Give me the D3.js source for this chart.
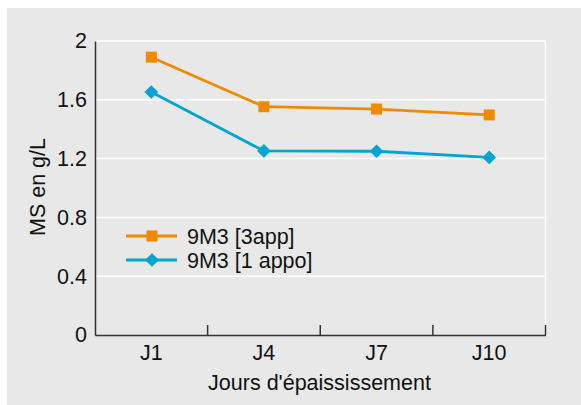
<!DOCTYPE html>
<html><head><meta charset="utf-8">
<script src="https://cdn.jsdelivr.net/npm/d3@7"></script>
<style>body{margin:0;background:#fff;}svg{display:block;font-family:"Liberation Sans",Arial,sans-serif;}</style>
</head><body>
<svg id="c" width="581" height="405"></svg>
<script>
const categories = ["J1","J4","J7","J10"];
const series3app = [1.89, 1.553, 1.537, 1.497];
const series1appo = [1.653, 1.252, 1.25, 1.208];
const seriesNames = ["9M3 [3app]","9M3 [1 appo]"];
const yTicks = [0,0.4,0.8,1.2,1.6,2];

const FS = 21.5;
const svg = d3.select("#c");
svg.append("rect").attr("x",7).attr("y",8).attr("width",574).attr("height",397).attr("fill","#e8e8e8");

const m = {l:95, r:545.5, t:41, b:335};
const x = d3.scaleBand().domain(categories).range([m.l,m.r]).padding(0);
const y = d3.scaleLinear().domain([0,2]).range([m.b,m.t]);

// grid
svg.append("g").selectAll("line").data(yTicks.filter(d=>d>0)).join("line")
  .attr("x1",m.l).attr("x2",m.r).attr("y1",d=>y(d)).attr("y2",d=>y(d))
  .attr("stroke","#fff").attr("stroke-width",1.5);
svg.append("line").attr("x1",m.r).attr("x2",m.r).attr("y1",m.t).attr("y2",m.b)
  .attr("stroke","#fff").attr("stroke-width",1.5);

// y axis
const ya = svg.append("g").attr("transform",`translate(${m.l},0)`)
  .call(d3.axisLeft(y).tickValues(yTicks).tickSize(0).tickPadding(8).tickFormat(d=>d3.format("")(d)));
ya.select(".domain").attr("stroke","#333").attr("stroke-width",1.5);
ya.selectAll("text").attr("font-size",FS).attr("fill","#111").attr("font-family","Liberation Sans, Arial, sans-serif");

// x axis
const xa = svg.append("g").attr("transform",`translate(0,${m.b})`)
  .call(d3.axisBottom(x).tickSize(0).tickPadding(10));
xa.select(".domain").attr("stroke","#333").attr("stroke-width",1.5);
xa.selectAll("text").attr("font-size",FS).attr("fill","#111").attr("font-family","Liberation Sans, Arial, sans-serif");
const bounds = categories.map(c=>x(c)).concat([x(categories[categories.length-1])+x.bandwidth()]).slice(1);
svg.append("g").selectAll("line").data(bounds).join("line")
  .attr("x1",d=>d).attr("x2",d=>d).attr("y1",m.b).attr("y2",m.b-10)
  .attr("stroke","#333").attr("stroke-width",1.5);

const cx = c => x(c)+x.bandwidth()/2;
const line = d3.line().x((d,i)=>cx(categories[i])).y(d=>y(d));
const col1 = "#f08a00", col2 = "#00a5d4";

svg.append("path").datum(series3app).attr("d",line).attr("fill","none").attr("stroke",col1).attr("stroke-width",2.8);
svg.append("path").datum(series1appo).attr("d",line).attr("fill","none").attr("stroke",col2).attr("stroke-width",2.8);

svg.append("g").selectAll("rect").data(series3app).join("rect")
  .attr("x",(d,i)=>cx(categories[i])-5.5).attr("y",d=>y(d)-5.5).attr("width",11).attr("height",11).attr("fill",col1);
const dia = d3.symbol().type(d3.symbolDiamond2).size(120);
svg.append("g").selectAll("path").data(series1appo).join("path")
  .attr("transform",(d,i)=>`translate(${cx(categories[i])},${y(d)})`).attr("d",dia).attr("fill",col2);

// legend
const leg = [{n:seriesNames[0],c:col1,s:"sq",y:236},{n:seriesNames[1],c:col2,s:"di",y:260}];
leg.forEach(l=>{
  svg.append("line").attr("x1",126).attr("x2",177).attr("y1",l.y).attr("y2",l.y).attr("stroke",l.c).attr("stroke-width",2.8);
  if(l.s==="sq") svg.append("rect").attr("x",146.5).attr("y",l.y-5.5).attr("width",11).attr("height",11).attr("fill",l.c);
  else svg.append("path").attr("transform",`translate(152,${l.y})`).attr("d",dia).attr("fill",l.c);
  svg.append("text").attr("x",187).attr("y",l.y).attr("dy","0.35em").attr("font-size",FS).attr("fill","#111").text(l.n);
});

// titles
svg.append("text").attr("transform","translate(45,187) rotate(-90)").attr("text-anchor","middle")
  .attr("font-size",FS).attr("fill","#111").text("MS en g/L");
svg.append("text").attr("x",319.5).attr("y",390).attr("text-anchor","middle")
  .attr("font-size",FS).attr("fill","#111").text("Jours d'épaississement");
</script>
</body></html>
